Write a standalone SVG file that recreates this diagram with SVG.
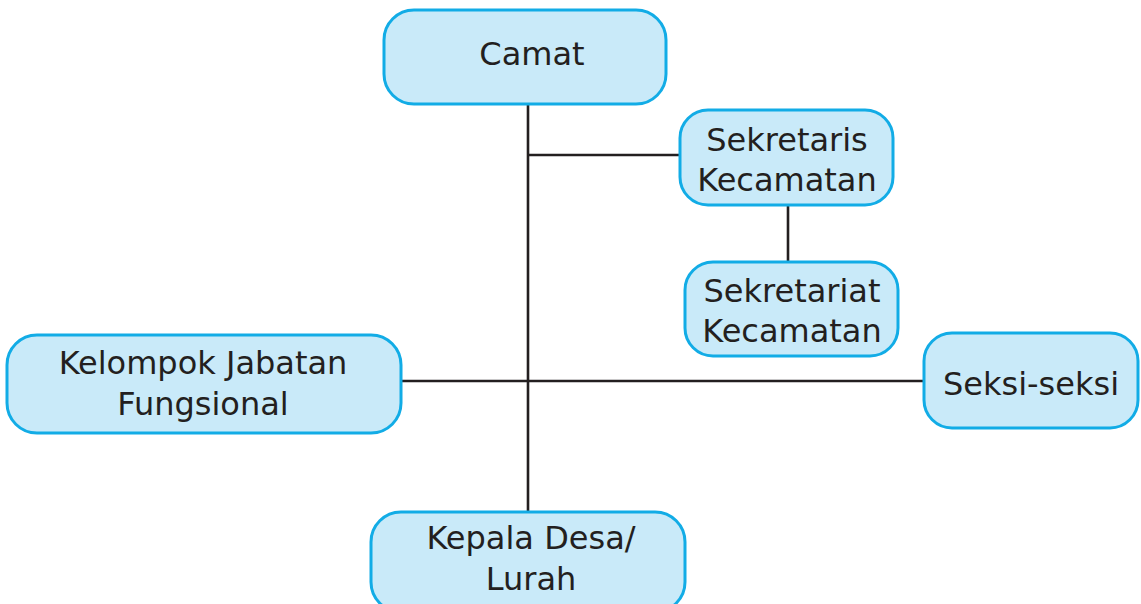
<svg xmlns="http://www.w3.org/2000/svg" width="1141" height="604" viewBox="0 0 1141 604">
<style>
.box{fill:#c9eaf9;stroke:#12ace6;stroke-width:3}
.t{font-family:"DejaVu Sans","Verdana",sans-serif;font-size:32px;fill:#231f20;text-anchor:middle}
.ln{stroke:#231f20;stroke-width:2.6;fill:none}
</style>
<rect width="1141" height="604" fill="#fff"/>
<g id="connectors">
<line class="ln" x1="528" y1="104" x2="528" y2="512"/>
<line class="ln" x1="528" y1="155" x2="681" y2="155"/>
<line class="ln" x1="788" y1="205" x2="788" y2="262"/>
<line class="ln" x1="401" y1="381" x2="925" y2="381"/>
</g>
<g id="camat">
<rect class="box" x="384" y="10" width="282" height="94" rx="30"/>
<text class="t" x="532" y="65">Camat</text>
</g>
<g id="sekretaris">
<rect class="box" x="680" y="110" width="213" height="95" rx="28"/>
<text class="t" x="787" y="151">Sekretaris</text>
<text class="t" x="787" y="191">Kecamatan</text>
</g>
<g id="sekretariat">
<rect class="box" x="685" y="262" width="213" height="94" rx="28"/>
<text class="t" x="792" y="302">Sekretariat</text>
<text class="t" x="792" y="342">Kecamatan</text>
</g>
<g id="kelompok">
<rect class="box" x="7" y="335" width="394" height="98" rx="30"/>
<text class="t" x="203" y="374">Kelompok Jabatan</text>
<text class="t" x="203" y="415">Fungsional</text>
</g>
<g id="seksi">
<rect class="box" x="924" y="333" width="214" height="95" rx="28"/>
<text class="t" x="1031" y="395">Seksi-seksi</text>
</g>
<g id="kepala">
<rect class="box" x="371" y="512" width="314" height="100" rx="30"/>
<text class="t" x="531" y="549">Kepala Desa/</text>
<text class="t" x="531" y="590">Lurah</text>
</g>
</svg>
